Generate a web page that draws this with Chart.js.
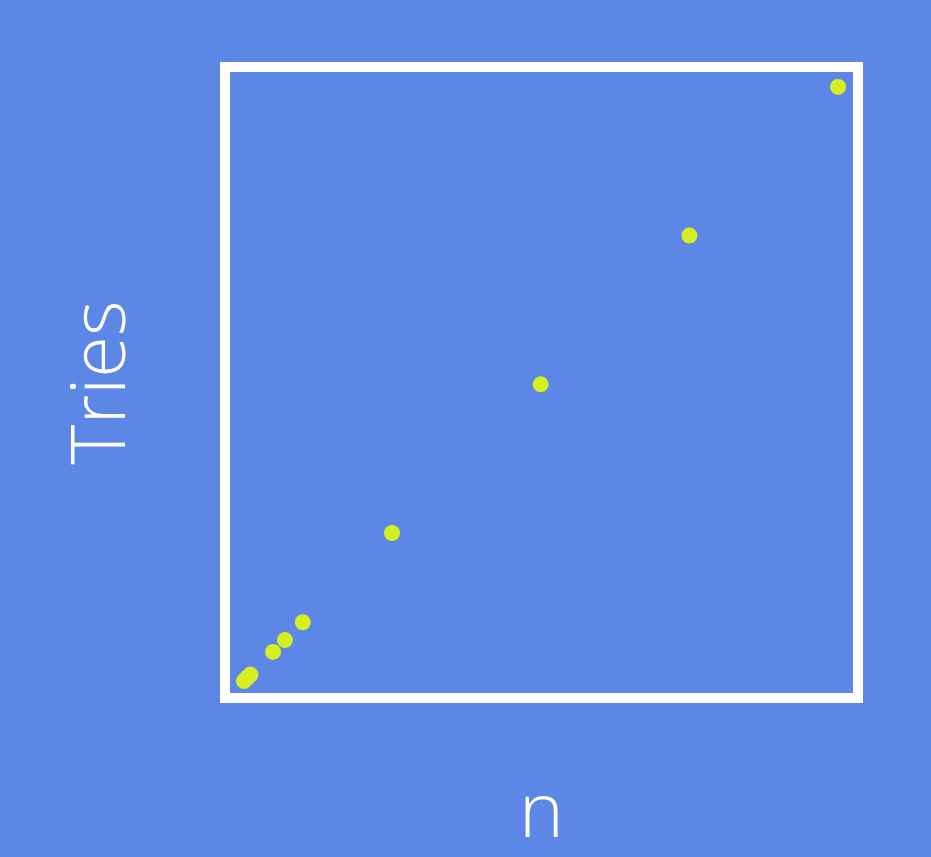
<!DOCTYPE html>
<html>
<head>
<meta charset="utf-8">
<script src="https://cdn.jsdelivr.net/npm/chart.js@4/dist/chart.umd.min.js"></script>
<style>
  html, body { margin: 0; padding: 0; background: #5c87e5; }
  #c { display: block; }
</style>
</head>
<body>
<canvas id="c" width="931" height="857"></canvas>
<script>
// Data
const nValues     = [1, 4, 8, 12, 50, 70, 100, 250, 500, 750, 1000];
const triesValues = [1, 4, 8, 12, 50, 70, 100, 250, 500, 750, 1000];
const xTitle = 'n';
const yTitle = 'Tries';

const points = nValues.map((n, i) => ({ x: n, y: triesValues[i] }));

const frame = {
  id: 'frame',
  beforeDatasetsDraw(chart) {
    const { ctx, chartArea: a } = chart;
    ctx.save();
    ctx.strokeStyle = '#ffffff';
    ctx.lineWidth = 10;
    ctx.strokeRect(a.left, a.top, a.right - a.left, a.bottom - a.top);
    ctx.restore();
  }
};

const titleFont = { family: '"Open Sans", "DejaVu Sans", sans-serif', size: 76, weight: 300, lineHeight: 1.1 };

new Chart(document.getElementById('c'), {
  type: 'scatter',
  data: {
    datasets: [{
      data: points,
      backgroundColor: '#d6ef22',
      borderWidth: 0,
      pointRadius: 8,
      pointHoverRadius: 8,
      clip: false
    }]
  },
  options: {
    responsive: false,
    animation: false,
    events: [],
    layout: { padding: { top: 67, right: 73, bottom: 0, left: 0 }, autoPadding: false },
    plugins: { legend: { display: false }, tooltip: { enabled: false } },
    scales: {
      x: {
        type: 'linear',
        min: -30.8, max: 1033.5,
        ticks: { display: false },
        grid: { display: false, drawTicks: false },
        border: { display: false },
        title: { display: true, text: xTitle, color: '#ffffff', font: titleFont, padding: { top: 75.2, bottom: 0.2 } }
      },
      y: {
        type: 'linear',
        min: -27.4, max: 1033.5,
        ticks: { display: false },
        grid: { display: false, drawTicks: false },
        border: { display: false },
        title: { display: true, text: yTitle, color: '#ffffff', font: titleFont, padding: { top: 61.2, bottom: 80.2 } }
      }
    }
  },
  plugins: [frame]
});
</script>
</body>
</html>
